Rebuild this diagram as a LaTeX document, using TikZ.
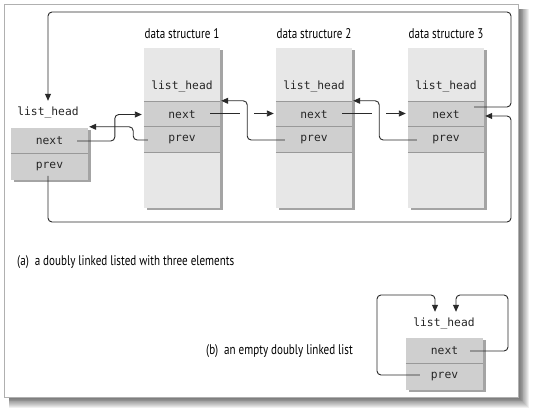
\documentclass[tikz,border=0pt]{standalone}
\usepackage{fontspec}
\setmainfont{PT Sans}[FakeStretch=0.79]
\newfontfamily\codefont{DejaVu Sans Mono}
\usetikzlibrary{arrows.meta,calc,shadows}

\definecolor{rowgray}{HTML}{CFCFCF}
\definecolor{bodygray}{HTML}{E7E7E7}
\definecolor{rulegray}{HTML}{999999}
\definecolor{shadowgray}{HTML}{A4A4A4}
\definecolor{wirecol}{HTML}{2A2A2A}
\definecolor{framegray}{HTML}{B0B0B0}

\tikzset{
  structbody/.style={fill=bodygray, minimum width=76pt, minimum height=160pt, inner sep=0pt,
    drop shadow={shadow xshift=2.5pt, shadow yshift=-2.5pt, fill=shadowgray, opacity=1}},
  cellrow/.style={fill=rowgray, minimum width=76pt, minimum height=25pt, inner sep=0pt,
    font=\codefont\fontsize{11.3}{13}\selectfont, text=black!85},
  tagtext/.style={inner sep=0pt, text height=8pt, text depth=2pt, minimum height=24pt,
    font=\codefont\fontsize{11.3}{13}\selectfont, text=black!85},
  titletext/.style={inner sep=0pt, font=\fontsize{14}{16}\selectfont},
  captext/.style={inner sep=0pt, anchor=west, font=\fontsize{14}{16}\selectfont},
  divline/.style={draw=rulegray, line width=0.8pt},
  wireline/.style={draw=wirecol, line width=0.9pt, rounded corners=4pt},
  ptrline/.style={wireline, -{Triangle[length=7pt,width=6pt]}},
}

\begin{document}
\begin{tikzpicture}[x=1pt,y=-1pt]
\useasboundingbox (0,0) rectangle (539,419);
\fill[white] (0,0) rectangle (539,419);

% soft shadow of the outer panel
\foreach \k in {1,...,12}
  \fill[black, opacity=0.06] (9,9) rectangle ({518+0.9*\k},{397+0.9*\k});
\draw[framegray, fill=white, line width=0.8pt] (4,4) rectangle (518,397);

% ---------- (a) the list head ----------
\node[structbody, minimum width=77pt, minimum height=52pt, fill=rowgray] (head) at (49.5,154) {};
\node[cellrow, minimum width=77pt] (hn) at (49.5,140.5) {next};
\node[cellrow, minimum width=77pt, minimum height=27pt] (hp) at (49.5,166.5) {prev};
\draw[divline] (hn.south west) -- (hn.south east);
\node[tagtext] (hl) at (48,113) {list\_head};

% ---------- (a) the three data structures ----------
\foreach \i/\cx in {1/182, 2/314, 3/446} {
  \node[titletext] (ds\i-t) at (\cx,34) {data structure \i};
  \node[structbody] (ds\i) at (\cx,128) {};
  \node[tagtext] (ds\i-l) at (\cx,87) {list\_head};
  \node[cellrow] (ds\i-n) at (\cx,114.5) {next};
  \node[cellrow] (ds\i-p) at (\cx,139.5) {prev};
  \draw[divline] (ds\i-n.north west) -- (ds\i-n.north east);
  \draw[divline] (ds\i-p.north west) -- (ds\i-p.north east);
  \draw[divline] (ds\i-p.south west) -- (ds\i-p.south east);
}

% head.next -> ds1, ds1.prev -> head
\draw[ptrline] ($(hn.east)+(-11,0.5)$) -| ($(ds1-n.west)+(-29,0)$) -- ($(ds1-n.west)+(-2,0)$);
\draw[ptrline] ($(ds1-p.west)+(4,0.5)$) -| ($(hn.north east)+(45,-1)$) -- ($(hn.north east)+(1,-1)$);

% next / prev links between neighbouring structures
\foreach \a/\b in {1/2, 2/3} {
  \draw[wireline] ($(ds\a-n.east)+(-10,-1)$) -- ($(ds\a-n.east)+(20,-1)$);
  \draw[ptrline] ($(ds\a-n.east)+(34,-1)$) -- ($(ds\b-n.west)+(-2,-1)$);
  \draw[ptrline] ($(ds\b-p.west)+(9,0.5)$) -| ($(ds\a-n.north east)+(27,-1)$) -- ($(ds\a-n.north east)+(1,-1)$);
}

% wrap-around links: ds3.next -> head, head.prev -> ds3
\coordinate (toproute) at (511,12);
\coordinate (botroute) at (511,222);
\draw[ptrline] ($(ds3-n.east)+(-10,-7.5)$) -| (toproute) -| (hl.north);
\draw[ptrline] ($(hp.center)+(-1.5,9.5)$) |- (botroute) |- ($(ds3-n.east)+(1,1.5)$);

\node[captext] (capa) at (17,262) {(a)\ \ a doubly linked listed with three elements};

% ---------- (b) an empty list ----------
\node[structbody, minimum width=77pt, minimum height=52pt, fill=rowgray] (eb) at (444.5,364) {};
\node[cellrow, minimum width=77pt] (ebn) at (444.5,350.5) {next};
\node[cellrow, minimum width=77pt, minimum height=27pt] (ebp) at (444.5,376.5) {prev};
\draw[divline] (ebn.south west) -- (ebn.south east);
\node[tagtext] (ebl) at (444,324) {list\_head};

\coordinate (loopleft) at (377,295);
\coordinate (loopright) at (508,295);
\draw[ptrline] ($(ebp.west)+(14,-1.5)$) -| (loopleft) -| ($(ebl.north)+(-9,0)$);
\draw[ptrline] ($(ebn.east)+(-13,0.5)$) -| (loopright) -| ($(ebl.north)+(12,0)$);

\node[captext] (capb) at (206,351) {(b)\ \ an empty doubly linked list};
\end{tikzpicture}
\end{document}
